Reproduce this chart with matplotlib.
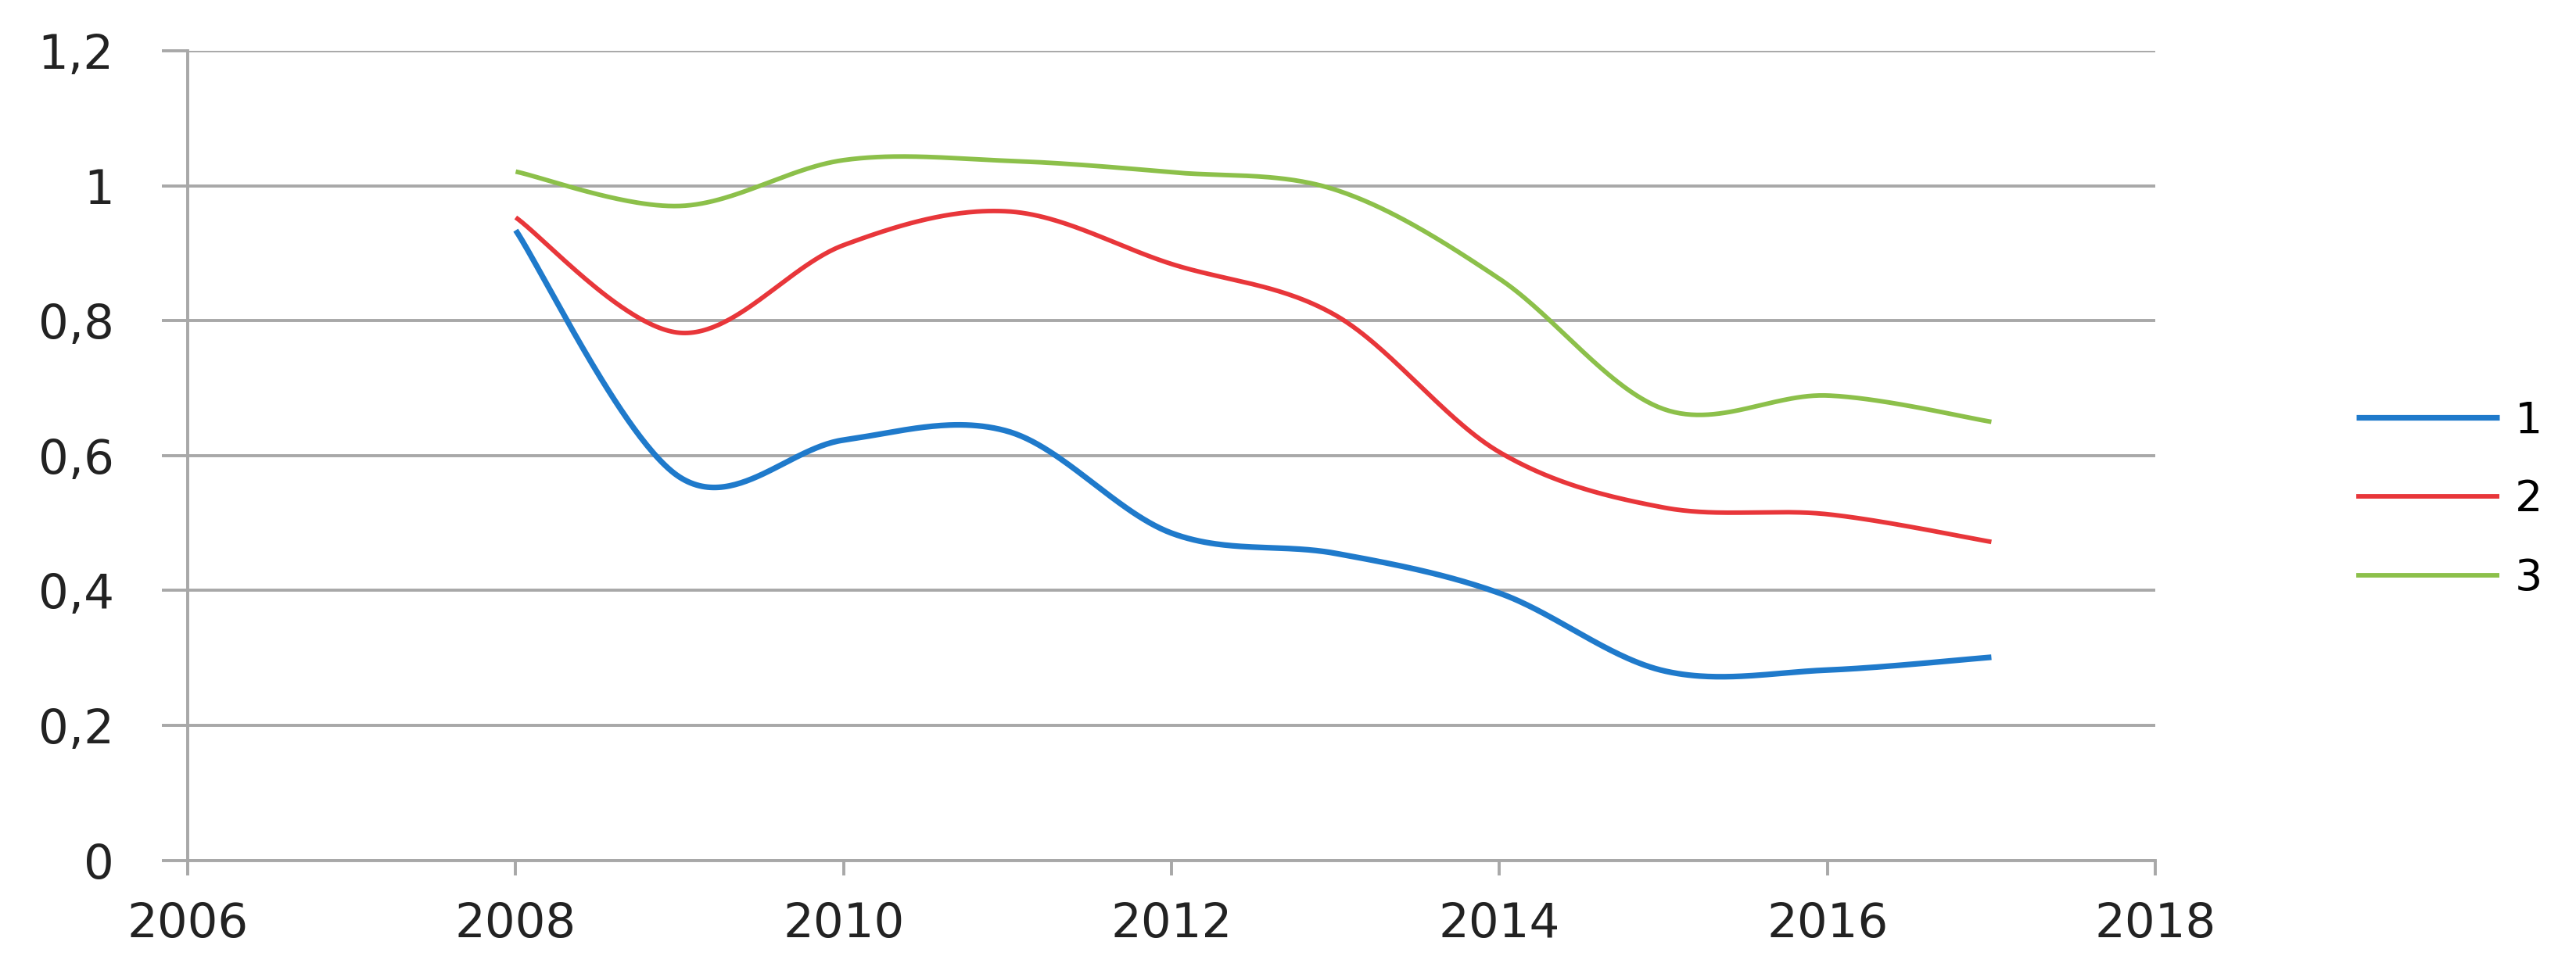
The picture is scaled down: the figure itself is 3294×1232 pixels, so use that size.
import numpy as np
import matplotlib
matplotlib.use("Agg")
import matplotlib.pyplot as plt

# data
years = [2008, 2009, 2010, 2011, 2012, 2013, 2014, 2015, 2016, 2017]
series_1 = [0.934, 0.568, 0.623, 0.636, 0.485, 0.455, 0.396, 0.281, 0.282, 0.301]
series_2 = [0.953, 0.782, 0.912, 0.962, 0.884, 0.808, 0.605, 0.523, 0.513, 0.472]
series_3 = [1.021, 0.970, 1.038, 1.037, 1.020, 0.994, 0.862, 0.669, 0.689, 0.650]
labels = ["1", "2", "3"]
colors = ["#1f7acb", "#e8363a", "#8cc04a"]
widths = [5.2, 4.2, 4.2]

yticks = [0, 0.2, 0.4, 0.6, 0.8, 1.0, 1.2]
ytick_labels = ["0", "0,2", "0,4", "0,6", "0,8", "1", "1,2"]
xticks = [2006, 2008, 2010, 2012, 2014, 2016, 2018]


def smooth(x, y, n=60):
    # Catmull-Rom spline, like the "smoothed line" option in spreadsheets
    x = np.asarray(x, float)
    y = np.asarray(y, float)
    px = np.concatenate([[x[0]], x, [x[-1]]])
    py = np.concatenate([[y[0]], y, [y[-1]]])
    xs, ys = [], []
    t = np.linspace(0, 1, n)
    for i in range(1, len(px) - 2):
        for p, out in ((px, xs), (py, ys)):
            p0, p1, p2, p3 = p[i - 1], p[i], p[i + 1], p[i + 2]
            c1 = p1 + (p2 - p0) / 6
            c2 = p2 - (p3 - p1) / 6
            out.extend((1 - t) ** 3 * p1 + 3 * (1 - t) ** 2 * t * c1
                       + 3 * (1 - t) * t ** 2 * c2 + t ** 3 * p2)
    return np.array(xs), np.array(ys)


plt.rcParams["font.family"] = ["DejaVu Sans"]
fig = plt.figure(figsize=(32.94, 12.32), dpi=100)
ax = fig.add_axes([0.0729, 0.1067, 0.7638, 0.8405])

for vals, lab, c, lw in zip([series_1, series_2, series_3], labels, colors, widths):
    sx, sy = smooth(years, vals)
    ax.plot(sx, sy, color=c, lw=lw, label=lab, solid_capstyle="butt",
            solid_joinstyle="round")

ax.set_xlim(2006, 2018)
ax.set_ylim(0, 1.2)
ax.set_yticks(yticks)
ax.set_yticklabels(ytick_labels)
ax.set_xticks(xticks)
ax.grid(axis="y", color="#a8a8a8", lw=2.8)
ax.set_axisbelow(True)
for s in ["top", "right"]:
    ax.spines[s].set_visible(False)
for s in ["left", "bottom"]:
    ax.spines[s].set_color("#a8a8a8")
    ax.spines[s].set_linewidth(2.8)
ax.tick_params(axis="y", length=24, width=2.8, color="#a8a8a8", pad=44,
               labelsize=44, labelcolor="#222222")
ax.tick_params(axis="x", length=14, width=2.8, color="#a8a8a8", pad=24,
               labelsize=44, labelcolor="#222222")

ax.legend(loc="center left", bbox_to_anchor=(0.9147, 0.481),
          bbox_transform=fig.transFigure, frameon=False, fontsize=40,
          handlelength=3.3, handletextpad=0.35, labelspacing=0.84,
          borderpad=0, borderaxespad=0)

fig.savefig("out.png", dpi=100, facecolor="white")
